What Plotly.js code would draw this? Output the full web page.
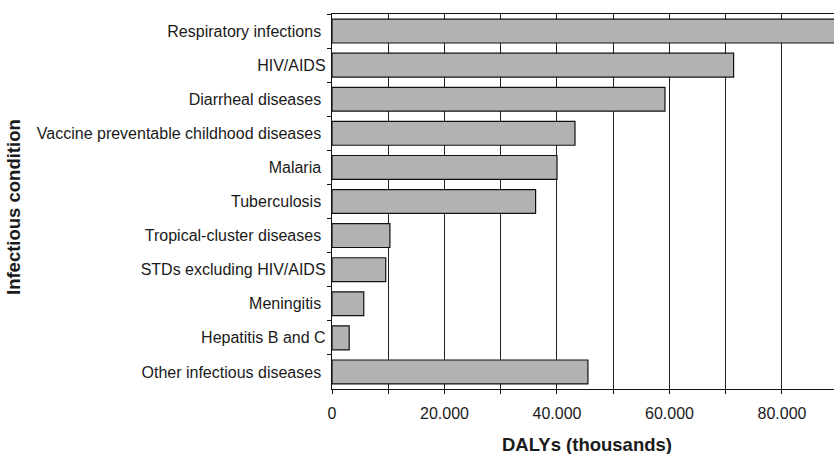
<!DOCTYPE html>
<html>
<head>
<meta charset="utf-8">
<script src="https://cdn.plot.ly/plotly-3.0.1.min.js"></script>
<style>html,body{margin:0;padding:0;background:#fff;}#chart{width:834px;height:454px;}</style>
</head>
<body>
<div id="chart"></div>
<script>
var categories = [
  "Respiratory infections\u00a0",
  "HIV/AIDS",
  "Diarrheal diseases\u00a0",
  "Vaccine preventable childhood diseases\u00a0",
  "Malaria\u00a0",
  "Tuberculosis\u00a0",
  "Tropical-cluster diseases\u00a0",
  "STDs excluding HIV/AIDS",
  "Meningitis\u00a0",
  "Hepatitis B and C",
  "Other infectious diseases\u00a0"
];
var dalys = [94000, 71400, 59200, 43200, 40000, 36200, 10300, 9550, 5650, 3060, 45500];
var xTickValues = [0, 20000, 40000, 60000, 80000];

var trace = {
  type: 'bar',
  orientation: 'h',
  y: categories,
  x: dalys,
  marker: {color: '#b2b2b2', line: {color: '#111', width: 1.2}},
  hoverinfo: 'x+y'
};

var fam = '"Liberation Sans", Arial, Helvetica, sans-serif';
var font = {family: fam, size: 16, color: '#1a1a1a'};
var titleFont = {family: fam, size: 18.5, color: '#1a1a1a'};

var layout = {
  width: 834, height: 454,
  margin: {l: 332, r: 0, t: 14, b: 65},
  paper_bgcolor: '#fff', plot_bgcolor: '#fff',
  separators: ',.',
  font: font,
  bargap: 0.3,
  showlegend: false,
  xaxis: {
    range: [0, 89250],
    tickvals: xTickValues,
    tickformat: ',d',
    showgrid: true, gridcolor: '#222', gridwidth: 1,
    zeroline: false,
    showline: true, linecolor: '#111', linewidth: 1.2, mirror: true,
    ticks: 'outside', ticklen: 4, tickcolor: '#111',
    tickfont: font,
    ticklabelstandoff: 6,
    minor: {dtick: 10000, tick0: 0, showgrid: true, gridcolor: '#222', gridwidth: 1, ticks: 'outside', ticklen: 4, tickcolor: '#111'},
    fixedrange: true
  },
  yaxis: {
    type: 'category',
    autorange: 'reversed',
    showgrid: false, zeroline: false,
    showline: true, linecolor: '#111', linewidth: 1.2,
    ticks: 'outside', tickson: 'boundaries', ticklen: 4, tickcolor: '#111',
    tickfont: font,
    ticklabelstandoff: 2,
    fixedrange: true
  },
  annotations: [
    {text: '<b>DALYs (thousands)</b>', xref: 'paper', yref: 'paper', x: (587 - 332) / 502, y: (389 - 444) / 375,
     xanchor: 'center', yanchor: 'middle', showarrow: false, font: titleFont},
    {text: '<b>Infectious condition</b>', xref: 'paper', yref: 'paper', x: (14 - 332) / 502, y: (389 - 207) / 375,
     xanchor: 'center', yanchor: 'middle', textangle: -90, showarrow: false, font: titleFont}
  ]
};

Plotly.newPlot('chart', [trace], layout, {displayModeBar: false, staticPlot: true});
</script>
</body>
</html>
